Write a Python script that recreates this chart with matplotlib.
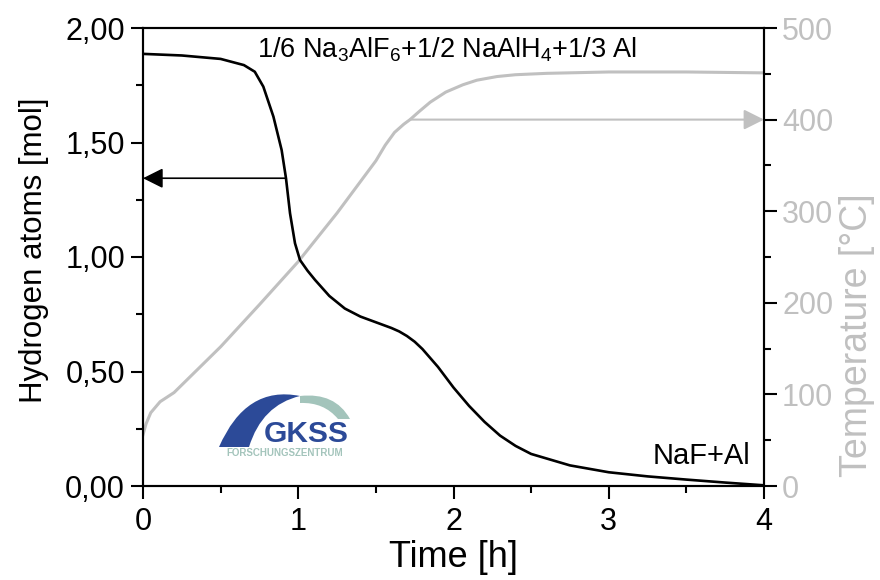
import matplotlib
matplotlib.use('Agg')
import matplotlib.pyplot as plt
from matplotlib.path import Path
from matplotlib.patches import PathPatch
from matplotlib.ticker import MultipleLocator, FuncFormatter

# ---------------- data ----------------
h_time = [0.0, 0.25, 0.5, 0.65, 0.72, 0.775, 0.84, 0.893, 0.921, 0.947, 0.979,
          1.011, 1.06, 1.108, 1.2, 1.3, 1.4, 1.5, 1.6, 1.65, 1.7, 1.75, 1.8, 1.9, 2.0,
          2.1, 2.2, 2.3, 2.4, 2.5, 2.75, 3.0, 3.25, 3.5, 3.75, 4.0]
h_mol = [1.887, 1.88, 1.865, 1.838, 1.809, 1.744, 1.613, 1.467, 1.344, 1.191, 1.06,
         0.987, 0.94, 0.90, 0.83, 0.775, 0.74, 0.715, 0.69, 0.675, 0.655, 0.63, 0.598,
         0.52, 0.43, 0.35, 0.28, 0.22, 0.175, 0.14, 0.09, 0.06, 0.042, 0.028, 0.015,
         0.003]

t_time = [0.0, 0.02, 0.05, 0.11, 0.2, 0.26, 0.5, 0.75, 1.0, 1.25, 1.5, 1.56, 1.62,
          1.68, 1.72, 1.78, 1.85, 1.95, 2.06, 2.15, 2.28, 2.4, 2.6, 3.0, 3.5, 4.0]
t_temp = [56, 68, 80, 92, 102, 112, 152, 198, 245, 298, 355, 372, 386,
          395, 400, 409, 419, 430, 438, 443, 447, 449, 450.5, 452, 452, 451]

h_ticks = [0.0, 0.5, 1.0, 1.5, 2.0]
t_ticks = [0, 100, 200, 300, 400, 500]
x_ticks = [0, 1, 2, 3, 4]

h_arrow = (0.921, 1.344)   # start of the arrow on the hydrogen curve
t_arrow = (1.72, 400)      # start of the arrow on the temperature curve

title_txt = '1/6 Na$_3$AlF$_6$+1/2 NaAlH$_4$+1/3 Al'
end_txt = 'NaF+Al'

GRAY = '#c0c0c0'
FONT = ['Liberation Sans', 'DejaVu Sans']
plt.rcParams['font.family'] = FONT
plt.rcParams['mathtext.fontset'] = 'custom'
plt.rcParams['mathtext.rm'] = 'Liberation Sans'
plt.rcParams['mathtext.it'] = 'Liberation Sans'

fig = plt.figure(figsize=(8.8, 5.8), dpi=100)
W, H = 880, 580
L, R, T, B = 143, 764, 28, 486
ax = fig.add_axes([L / W, 1 - B / H, (R - L) / W, (B - T) / H])
ax2 = ax.twinx()
ax.set_zorder(ax2.get_zorder() + 1)
ax.patch.set_visible(False)

ax2.plot(t_time, t_temp, color=GRAY, lw=2.2, solid_joinstyle='round')
ax.plot(h_time, h_mol, color='black', lw=1.9, solid_joinstyle='round')

ax.set_xlim(0, 4)
ax.set_ylim(0, 2)
ax2.set_ylim(0, 500)

for a in (ax, ax2):
    for s in a.spines.values():
        s.set_linewidth(1.5)
        s.set_color('black')

ax.set_xticks(x_ticks)
ax.xaxis.set_minor_locator(MultipleLocator(0.5))
ax.set_yticks(h_ticks)
ax.yaxis.set_minor_locator(MultipleLocator(0.25))
ax.yaxis.set_major_formatter(FuncFormatter(lambda v, p: f'{v:.2f}'.replace('.', ',')))
ax2.set_yticks(t_ticks)
ax2.yaxis.set_minor_locator(MultipleLocator(50))

ax.tick_params(axis='both', which='major', direction='out', length=9, width=1.5,
               labelsize=22, pad=4)
ax.tick_params(axis='both', which='minor', direction='out', length=5, width=1.5)
ax.tick_params(axis='x', which='major', pad=6)
ax2.tick_params(axis='y', which='major', direction='out', length=9, width=1.5,
                labelsize=22, labelcolor=GRAY, pad=4)
ax2.tick_params(axis='y', which='minor', direction='out', length=5, width=1.5)

ax.set_xlabel('Time [h]', fontsize=26, labelpad=2)
ax.set_ylabel('Hydrogen atoms [mol]', fontsize=22.5)
ax.yaxis.set_label_coords(-0.152, 0.515)
ax2.set_ylabel('Temperature [°C]', fontsize=27, color=GRAY)
ax2.yaxis.set_label_coords(1.12, 0.33)

ax.annotate('', xy=(0, h_arrow[1]), xytext=h_arrow,
            arrowprops=dict(arrowstyle='-|>,head_length=0.7,head_width=0.35',
                            color='black', lw=1.2, mutation_scale=17.5,
                            shrinkA=0, shrinkB=0))
ax2.annotate('', xy=(4, t_arrow[1]), xytext=t_arrow,
             arrowprops=dict(arrowstyle='-|>,head_length=0.7,head_width=0.35',
                             color=GRAY, lw=1.5, mutation_scale=17.5,
                             shrinkA=0, shrinkB=0))

ax.text(0.49, 0.952, title_txt, transform=ax.transAxes, ha='center', va='center',
        fontsize=19.5)
ax.text(0.9, 0.065, end_txt, transform=ax.transAxes, ha='center', va='center',
        fontsize=21)

# ---------------- GKSS logo (pixel coordinates overlay) ----------------
lg = fig.add_axes([0, 0, 1, 1], zorder=10)
lg.set_xlim(0, W)
lg.set_ylim(H, 0)
lg.axis('off')
lg.patch.set_visible(False)
blue = '#2c4a98'
teal = '#a3c4bb'
blue_path = Path([(219, 447), (246, 385), (300, 396), (262, 405), (249, 447), (219, 447)],
                 [Path.MOVETO, Path.CURVE3, Path.CURVE3, Path.CURVE3, Path.CURVE3, Path.CLOSEPOLY])
teal_path = Path([(300, 396), (335, 392), (350, 419), (338, 419), (324, 402), (300, 403), (300, 396)],
                 [Path.MOVETO, Path.CURVE3, Path.CURVE3, Path.LINETO, Path.CURVE3, Path.CURVE3, Path.CLOSEPOLY])
lg.add_patch(PathPatch(blue_path, facecolor=blue, edgecolor='none'))
lg.add_patch(PathPatch(teal_path, facecolor=teal, edgecolor='none'))
lg.text(306, 434, 'GKSS', ha='center', va='center', fontsize=21.5, fontweight='bold',
        color=blue, family=['Liberation Sans', 'DejaVu Sans'])
lg.text(285, 453, 'FORSCHUNGSZENTRUM', ha='center', va='center', fontsize=7,
        fontweight='bold', color=teal, family=['Liberation Sans', 'DejaVu Sans'])

fig.savefig('out.png', dpi=100)
